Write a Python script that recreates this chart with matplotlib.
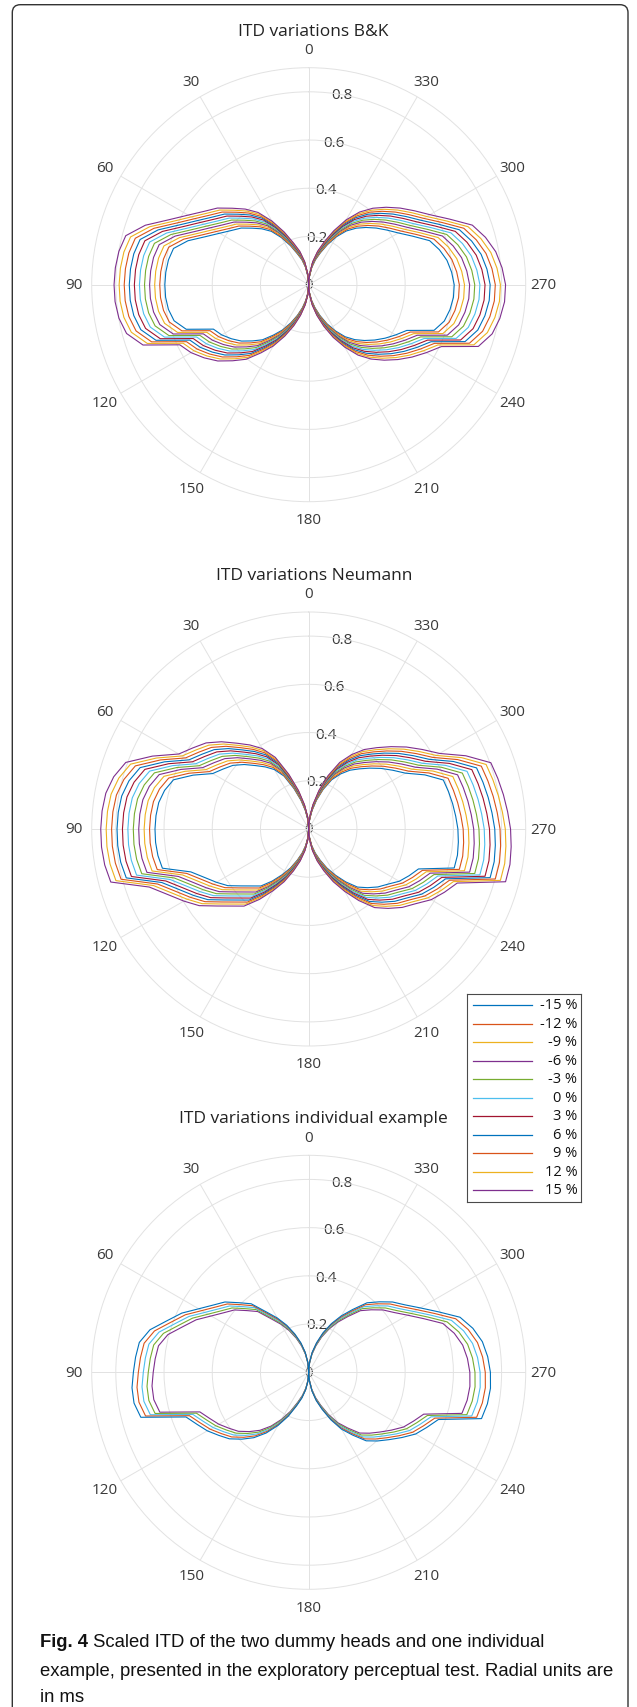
import numpy as np
import matplotlib
matplotlib.use('Agg')
import matplotlib.pyplot as plt
from matplotlib.patches import FancyBboxPatch
from matplotlib.transforms import IdentityTransform

W, H = 637, 1708

# azimuth of one lobe, degrees (0 = front, 180 = back)
ang = np.arange(0, 181, 5)

# 0 % ITD in ms, left lobe (plot angle = ang) and right lobe (plot angle = 360 - ang)
bk_left = [0.00, 0.04, 0.085, 0.125, 0.16, 0.21, 0.265, 0.318, 0.356, 0.39, 0.43, 0.461, 0.502, 0.555,
           0.627, 0.683, 0.695, 0.70, 0.702, 0.701, 0.695, 0.68, 0.636, 0.513, 0.49, 0.46, 0.428, 0.388,
           0.351, 0.30, 0.255, 0.205, 0.158, 0.115, 0.075, 0.037, 0.00]
bk_right = [0.00, 0.04, 0.085, 0.125, 0.165, 0.215, 0.27, 0.32, 0.36, 0.395, 0.43, 0.465, 0.505, 0.56,
            0.628, 0.66, 0.685, 0.70, 0.71, 0.709, 0.70, 0.685, 0.651, 0.528, 0.49, 0.455, 0.42, 0.385,
            0.35, 0.31, 0.26, 0.21, 0.16, 0.115, 0.075, 0.037, 0.00]
neu_left = [0.00, 0.045, 0.09, 0.145, 0.21, 0.285, 0.335, 0.37, 0.404, 0.445, 0.483, 0.51, 0.541, 0.622,
            0.702, 0.728, 0.743, 0.748, 0.75, 0.75, 0.747, 0.739, 0.612, 0.56, 0.52, 0.482, 0.432, 0.393,
            0.363, 0.31, 0.257, 0.21, 0.161, 0.12, 0.08, 0.04, 0.00]
neu_right = [0.00, 0.045, 0.09, 0.145, 0.205, 0.265, 0.31, 0.35, 0.383, 0.42, 0.46, 0.50, 0.545, 0.625,
             0.699, 0.706, 0.713, 0.72, 0.728, 0.733, 0.737, 0.735, 0.57, 0.54, 0.51, 0.47, 0.44, 0.405,
             0.37, 0.315, 0.26, 0.21, 0.161, 0.12, 0.08, 0.04, 0.00]
ind_left = [0.00, 0.04, 0.08, 0.12, 0.16, 0.203, 0.245, 0.288, 0.35, 0.385, 0.428, 0.458, 0.497, 0.548,
            0.59, 0.643, 0.673, 0.68, 0.686, 0.694, 0.694, 0.68, 0.511, 0.482, 0.458, 0.43, 0.405, 0.37,
            0.334, 0.29, 0.24, 0.19, 0.14, 0.105, 0.07, 0.035, 0.00]
ind_right = [0.00, 0.04, 0.08, 0.12, 0.165, 0.21, 0.255, 0.30, 0.355, 0.39, 0.428, 0.46, 0.504, 0.56,
             0.63, 0.665, 0.69, 0.703, 0.711, 0.714, 0.71, 0.70, 0.54, 0.51, 0.483, 0.445, 0.41, 0.38,
             0.35, 0.30, 0.257, 0.205, 0.155, 0.115, 0.075, 0.035, 0.00]

pct_all = [-15, -12, -9, -6, -3, 0, 3, 6, 9, 12, 15]
pct_ind = [-6, -3, 0, 3, 6]
legend_labels = ['%d %%' % p for p in pct_all]

matlab = ['#0072BD', '#D95319', '#EDB120', '#7E2F8E', '#77AC30', '#4DBEEE', '#A2142F']
col_all = [matlab[i % 7] for i in range(len(pct_all))]
col_ind = ['#7E2F8E', '#77AC30', '#4DBEEE', '#D95319', '#0072BD']

titles = ['ITD variations B&K', 'ITD variations Neumann', 'ITD variations individual example']
rticks = [0, 0.2, 0.4, 0.6, 0.8]
tticks = list(range(0, 360, 30))

caption = ['Scaled ITD of the two dummy heads and one individual',
           'example, presented in the exploratory perceptual test. Radial units are',
           'in ms']

plt.rcParams['font.family'] = ['Open Sans', 'DejaVu Sans']
grid_c = '#e2e2e2'
txt_c = '#3a3a3a'


def full(left, right):
    th = np.concatenate([ang, 360 - ang[::-1][1:]])
    r = np.concatenate([np.array(left), np.array(right)[::-1][1:]])
    return np.deg2rad(th), r


fig = plt.figure(figsize=(W / 100, H / 100), dpi=100)

R = 217.0
cx = 308.7
centers = [285.7, 830.0, 1373.3]
upx = 0.9 / R

datasets = [
    (full(bk_left, bk_right), pct_all, col_all),
    (full(neu_left, neu_right), pct_all, col_all),
    (full(ind_left, ind_right), pct_ind, col_ind),
]

for k, cy in enumerate(centers):
    ax = fig.add_axes([(cx - R) / W, 1 - (cy + R) / H, 2 * R / W, 2 * R / H], projection='polar')
    ax.set_theta_zero_location('N')
    ax.set_theta_direction(1)
    ax.set_ylim(0, 0.9)
    ax.set_xticks(np.deg2rad(tticks))
    ax.set_xticklabels([])
    ax.set_yticks(rticks[1:])
    ax.set_yticklabels([])
    ax.tick_params(length=0)
    ax.grid(True, color=grid_c, lw=0.7)
    ax.spines['polar'].set_color(grid_c)
    ax.spines['polar'].set_linewidth(0.7)

    for t in tticks:
        ax.text(np.deg2rad(t), 0.9 + 18 * upx, str(t), ha='center', va='center',
                fontsize=11, color=txt_c, clip_on=False)
    for v in rticks:
        ax.text(np.deg2rad(350), v, '%g' % v, ha='center', va='center',
                fontsize=11, color=txt_c, zorder=1)

    (th, base), pcts, cols = datasets[k]
    for p, c in zip(pcts, cols):
        ax.plot(th, base * (1 + p / 100.0), color=c, lw=0.8, zorder=3)

    fig.text(313.7 / W, 1 - (cy - 254) / H, titles[k], ha='center', va='center',
             fontsize=12.5, color='#222222')

# legend
lx0, ly0, lx1, ly1 = 466.7, 995.0, 580.7, 1202.7
lax = fig.add_axes([lx0 / W, 1 - ly1 / H, (lx1 - lx0) / W, (ly1 - ly0) / H])
lax.set_xlim(lx0, lx1)
lax.set_ylim(ly1, ly0)
lax.set_xticks([])
lax.set_yticks([])
lax.set_facecolor('white')
for s in lax.spines.values():
    s.set_color('#4a4a4a')
    s.set_linewidth(0.8)
for i, (lab, c) in enumerate(zip(legend_labels, col_all)):
    y = 1006 + 18.5 * i
    lax.plot([472.7, 531.7], [y, y], color=c, lw=0.9)
    lax.text(577.3, y, lab, ha='right', va='center', fontsize=10.5, color='#111111')

# frame
frame = FancyBboxPatch((12.3, -20), 628 - 12.3, H - 5.7 + 20,
                       boxstyle='round,pad=0,rounding_size=8', transform=IdentityTransform(),
                       fill=False, edgecolor='#333333', lw=1.0)
fig.patches.append(frame)

# caption, font size fitted so the second line spans about 575 px
cap_fam = ['Liberation Sans', 'DejaVu Sans']
cap_x = 40.0
renderer = fig.canvas.get_renderer()
probe = fig.text(0, 0, caption[1], fontsize=12, family=cap_fam)
wpx = probe.get_window_extent(renderer).width
probe.remove()
cap_fs = 12 * 575.0 / wpx

base_y = [1647, 1676, 1702]
t1 = fig.text(cap_x / W, 1 - base_y[0] / H, 'Fig. 4', fontsize=cap_fs, fontweight='bold',
              family=cap_fam, va='baseline', color='#111111')
bb = t1.get_window_extent(renderer)
fig.text(bb.x1 / W, 1 - base_y[0] / H, ' ' + caption[0], fontsize=cap_fs, family=cap_fam,
         va='baseline', color='#111111')
for line, yb in zip(caption[1:], base_y[1:]):
    fig.text(cap_x / W, 1 - yb / H, line, fontsize=cap_fs, family=cap_fam, va='baseline',
             color='#111111')

fig.savefig('out.png', dpi=100)
